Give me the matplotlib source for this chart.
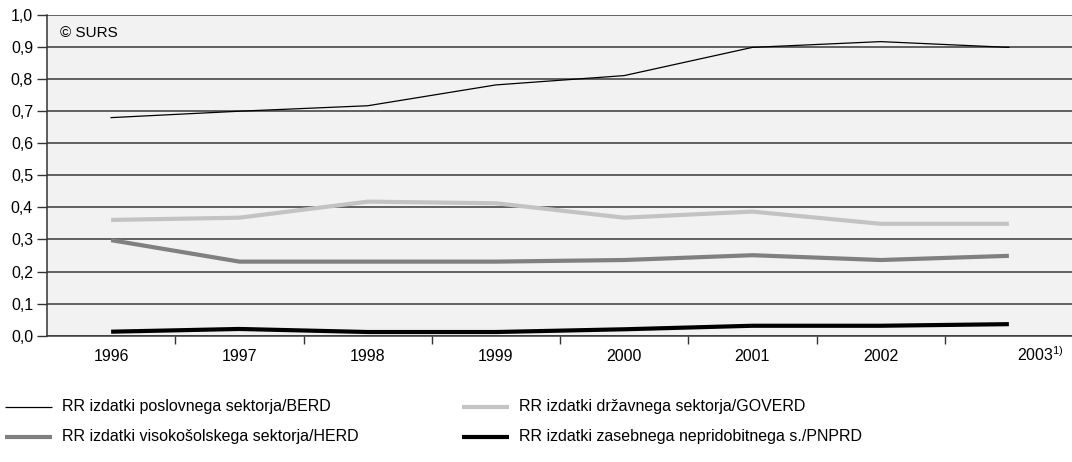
import matplotlib
matplotlib.use("Agg")
import matplotlib.pyplot as plt
from matplotlib.transforms import ScaledTranslation
from matplotlib.lines import Line2D

plt.rcParams['font.family'] = ['Liberation Sans', 'DejaVu Sans']
plt.rcParams['mathtext.fontset'] = 'custom'
plt.rcParams['mathtext.rm'] = 'Liberation Sans'

years = ["1996", "1997", "1998", "1999", "2000", "2001", "2002", "2003$^{\\mathrm{1)}}$"]
berd = [0.68, 0.70, 0.717, 0.782, 0.811, 0.899, 0.917, 0.899]
goverd = [0.361, 0.368, 0.418, 0.413, 0.368, 0.387, 0.349, 0.349]
herd = [0.298, 0.231, 0.231, 0.231, 0.236, 0.251, 0.236, 0.249]
pnprd = [0.0125, 0.021, 0.0115, 0.0115, 0.02, 0.031, 0.031, 0.036]
y_ticks = [0.0, 0.1, 0.2, 0.3, 0.4, 0.5, 0.6, 0.7, 0.8, 0.9, 1.0]
labels = ["RR izdatki poslovnega sektorja/BERD",
          "RR izdatki državnega sektorja/GOVERD",
          "RR izdatki visokošolskega sektorja/HERD",
          "RR izdatki zasebnega nepridobitnega s./PNPRD"]

FS = 11.5
fig = plt.figure(figsize=(10.72, 4.62), dpi=100)
ax = fig.add_axes([47/1072, 1 - 335.7/462, 1026/1072, 320.7/462])
ax.set_facecolor('#f2f2f2')

x = list(range(len(years)))
ax.plot(x, goverd, color='#c3c3c3', lw=3.0, solid_capstyle='butt', zorder=3)
ax.plot(x, herd, color='#808080', lw=3.0, solid_capstyle='butt', zorder=3)
ax.plot(x, pnprd, color='#000000', lw=3.0, solid_capstyle='butt', zorder=3)
ax.plot(x, berd, color='#000000', lw=0.9, zorder=4)

ax.set_xlim(-0.5, 7.5)
ax.set_ylim(0, 1.0)
ax.set_yticks(y_ticks)
ax.set_yticklabels([f"{v:.1f}".replace('.', ',') for v in y_ticks], fontsize=FS)
for v in y_ticks:
    ax.axhline(v, color='#3a3a3a', lw=1.1, zorder=1)

ax.set_xticks(x)
ax.set_xticklabels(years, fontsize=FS)
ax.tick_params(axis='x', which='major', length=0, pad=18.5)
for l in ax.get_xticklabels():
    l.set_verticalalignment('baseline')
ax.set_xticks([i + 0.5 for i in range(7)], minor=True)
ax.tick_params(axis='x', which='minor', length=6, width=1, color='#333333', direction='out')
ax.tick_params(axis='y', length=7, width=1, color='#333333', pad=3)
lab = ax.get_xticklabels()[-1]
lab.set_transform(lab.get_transform() + ScaledTranslation(0.32, 0, fig.dpi_scale_trans))

for s in ['top', 'right']:
    ax.spines[s].set_visible(False)
ax.spines['left'].set_color('#333333')
ax.spines['bottom'].set_color('#3a3a3a')
ax.spines['left'].set_linewidth(1.1)
ax.spines['bottom'].set_linewidth(1.1)

ax.text(60/1072, 1 - 33/462, "© SURS", transform=fig.transFigure, fontsize=11,
        va='center', ha='left')

# legend
handles = [
    (Line2D([], [], color='#000000', lw=0.9), labels[0], 5, 406.5),
    (Line2D([], [], color='#c3c3c3', lw=3.0), labels[1], 462, 406.5),
    (Line2D([], [], color='#808080', lw=3.0), labels[2], 5, 436.5),
    (Line2D([], [], color='#000000', lw=3.0), labels[3], 462, 436.5),
]
for h, t, lx, ly in handles:
    yf = 1 - ly / 462
    fig.add_artist(Line2D([lx/1072, (lx + 47)/1072], [yf, yf], transform=fig.transFigure,
                          color=h.get_color(), lw=h.get_linewidth(), solid_capstyle='butt'))
    fig.text((lx + 57)/1072, yf, t, fontsize=FS, va='center', ha='left')

fig.savefig("out.png", dpi=100)
